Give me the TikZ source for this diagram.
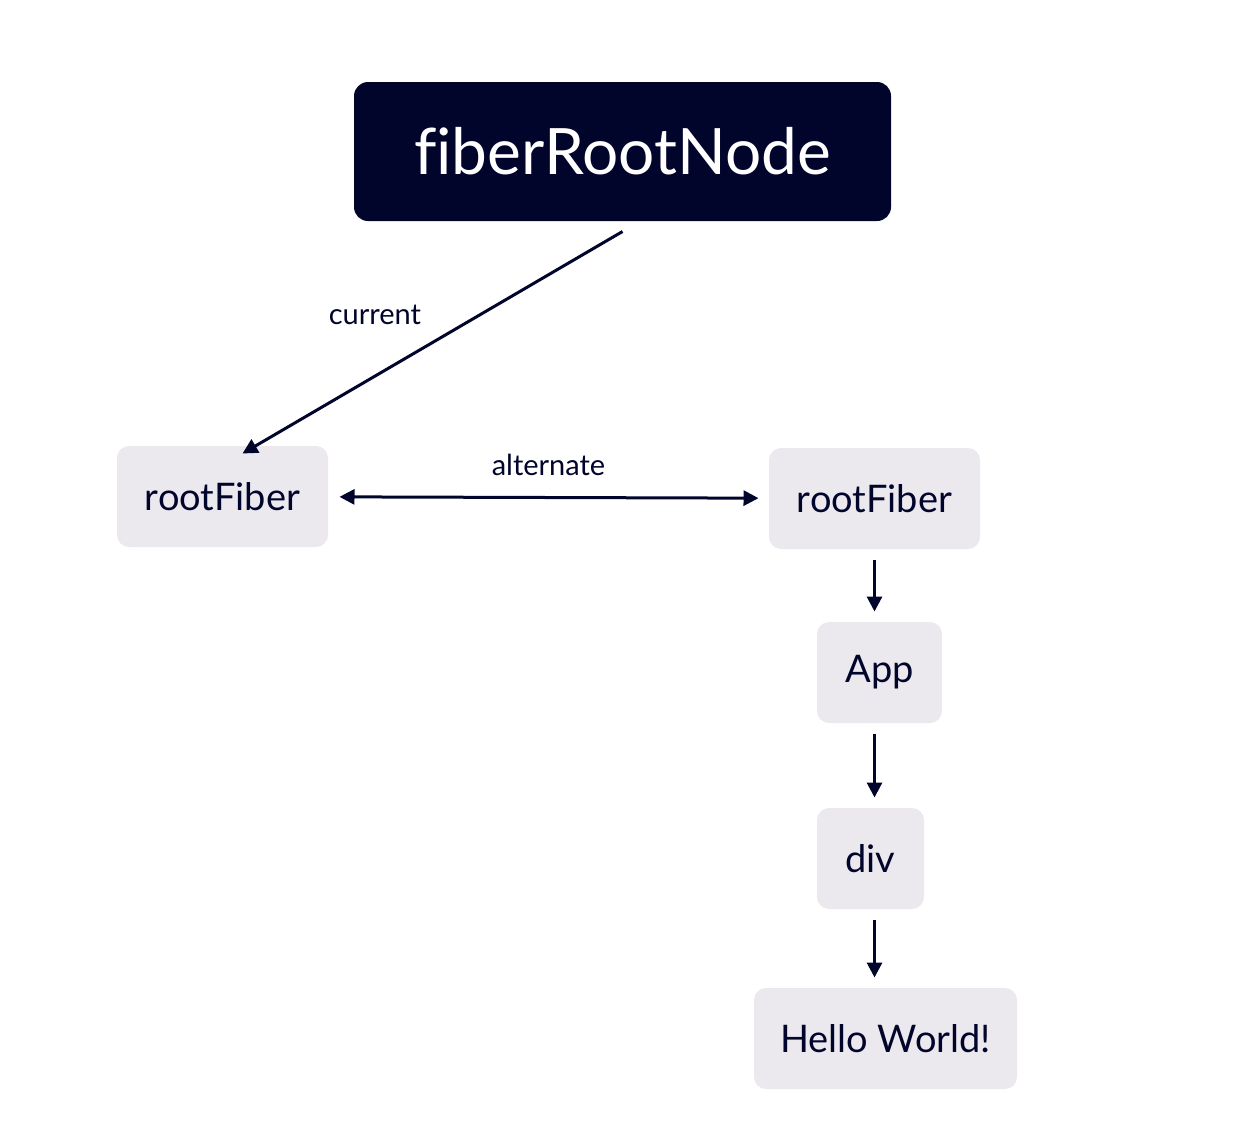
\documentclass[tikz,border=0pt]{standalone}
\usepackage{fontspec}
\setmainfont{Lato}[Ligatures=NoCommon]
\usetikzlibrary{positioning, arrows.meta, calc}
\definecolor{navy}{HTML}{02052B}
\definecolor{boxgray}{HTML}{EBE9EE}
\tikzset{>={Triangle[length=7.5pt,width=7.5pt]},
  fiber/.style={fill=boxgray, text=navy, rounded corners=6pt, minimum height=50.5pt, inner sep=0pt, font=\fontsize{19}{22}\selectfont},
  rootnode/.style={fill=navy, text=white, rounded corners=7pt, minimum width=268.5pt, minimum height=69.5pt, font=\fontsize{32}{36}\selectfont},
  lbl/.style={text=navy, inner sep=0pt, font=\fontsize{14.5}{17}\selectfont},
  link/.style={->, shorten <=4.5pt, shorten >=4.5pt}}

\begin{document}
\begin{tikzpicture}[x=0.5pt,y=-0.5pt,line width=1.5pt,draw=navy]
\useasboundingbox (0,0) rectangle (1234,1146);
\node[rootnode] (root) at (622.5,151.5) {fiberRootNode};
\node[fiber, minimum width=105.5pt] (rf1) at (222.5,496.5) {rootFiber};
\node[fiber, minimum width=105.5pt] (rf2) at (874.5,498.5) {rootFiber};
\node[fiber, minimum width=62.5pt, below of=rf2, node distance=87pt, xshift=2.5pt] (app) {App};
\node[fiber, minimum width=53.5pt, below of=app, node distance=93pt, xshift=-4.5pt] (div) {div};
\node[fiber, minimum width=131.5pt, below of=div, node distance=90pt, xshift=7.5pt] (hello) {Hello World!};
\path
($(root.south)+(0,9)$) edge[->] node[lbl, above left=8pt and 5pt] {current} ($(rf1.north)+(20,9)$)
(rf1) edge[<->, shorten <=5pt, shorten >=4.5pt] node[lbl, above=10pt] {alternate} (rf2)
(rf2.south) edge[link] (rf2.south |- app.north)
(app.south -| rf2) edge[link] (div.north -| rf2)
(div.south -| rf2) edge[link] (hello.north -| rf2);

\end{tikzpicture}
\end{document}
